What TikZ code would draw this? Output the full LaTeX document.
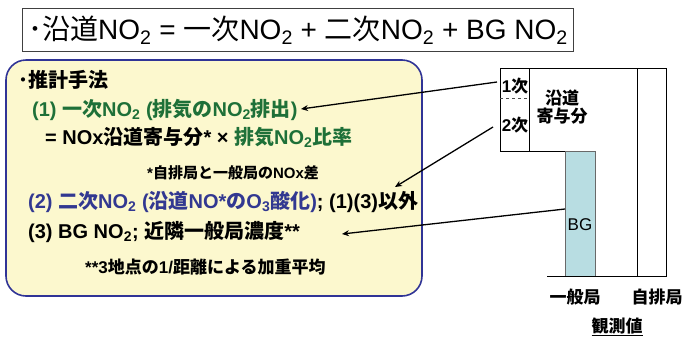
\documentclass[tikz,border=0pt]{standalone}
\usepackage{fontspec}
\setmainfont{Liberation Sans}
\newfontfamily\jp{Noto Sans CJK JP}
\usetikzlibrary{arrows.meta}
\definecolor{yfill}{RGB}{252,248,206}
\definecolor{bblue}{RGB}{48,52,150}
\definecolor{tgreen}{RGB}{30,112,56}
\definecolor{tblue}{RGB}{50,56,145}
\definecolor{bgfill}{RGB}{184,221,226}
\definecolor{bggray}{RGB}{105,105,105}
\newcommand\J[1]{{\jp #1}}
\newcommand\sub[1]{\textsubscript{#1}}
\tikzset{
  txt/.style={inner sep=0pt, anchor=west, font=\bfseries\fontsize{20}{24}\selectfont},
  lbl/.style={inner sep=0pt, font=\bfseries\fontsize{17}{20}\selectfont},
  arr/.style={line width=1.3pt, -{Stealth[length=7pt,width=6pt]}},
  bar/.style={line width=0.9pt}
}
\begin{document}
\begin{tikzpicture}[x=1pt,y=-1pt]
\useasboundingbox (0,0) rectangle (683,338);
% title
\draw[line width=0.9pt, draw=black!75] (22,8) rectangle (573,51);
\node[inner sep=0pt, anchor=west, font=\fontsize{28}{34}\selectfont] (title) at (28,30)
  {\J{･沿道}NO\sub{2} = \J{一次}NO\sub{2} + \J{二次}NO\sub{2} + BG NO\sub{2}};
% yellow box
\draw[fill=yfill, draw=bblue, line width=1.6pt, rounded corners=20pt] (6,60) rectangle (422,296);
\node[txt] (t0) at (18,80) {\J{･推計手法}};
\node[txt, text=tgreen] (t1) at (32,110) {(1) \J{一次}NO\sub{2} (\J{排気の}NO\sub{2}\J{排出})};
\node[txt] (t2) at (45,137) {= NOx\J{沿道寄与分}* × \textcolor{tgreen}{\J{排気}NO\sub{2}\J{比率}}};
\node[txt, font=\bfseries\fontsize{15}{18}\selectfont] (t3) at (147,173) {*\J{自排局と一般局の}NOx\J{差}};
\node[txt] (t4) at (28,202) {\textcolor{tblue}{(2) \J{二次}NO\sub{2} (\J{沿道}NO*\J{の}O\sub{3}\J{酸化})}; (1)(3)\J{以外}};
\node[txt] (t5) at (28,232) {(3) BG NO\sub{2}; \J{近隣一般局濃度}**};
\node[txt, font=\bfseries\fontsize{17}{20}\selectfont] (t6) at (85,267) {**3\J{地点の}1/\J{距離による加重平均}};
% right diagram
\draw[bar] (595,151) -- (500,151) -- (500,68) -- (637,68) -- (637,276);
\draw[bar] (637,68) -- (666,68) -- (666,276);
\draw[bar] (529,68) -- (529,151);
\draw[dashed, line width=0.7pt, draw=black!70] (500,98) -- (529,98);
\draw[fill=bgfill, draw=bggray, line width=0.9pt] (565,151) rectangle (595,276);
\draw[bar] (547,276) -- (667,276);
\node[lbl] (n1) at (515,86) {1\J{次}};
\node[lbl] (n2) at (515,125) {2\J{次}};
\node[lbl, align=center] (ryd) at (562,107) {\J{沿道}\\[-2pt]\J{寄与分}};
\node[inner sep=0pt, font=\fontsize{17}{20}\selectfont] (bg) at (580,225) {BG};
\node[lbl] (ippan) at (575,297) {\J{一般局}};
\node[lbl] (jihai) at (657,297) {\J{自排局}};
\node[lbl] (kan) at (617,327) {\underline{\J{観測値}}};
% arrows
\coordinate (s1) at (497,82);
\coordinate (e1) at (301,109);
\coordinate (s2) at (493,127);
\coordinate (e2) at (395,187);
\coordinate (s3) at (565,209);
\coordinate (e3) at (342,234);
\draw[arr] (s1) -- (e1);
\draw[arr] (s2) -- (e2);
\draw[arr] (s3) -- (e3);
\end{tikzpicture}
\end{document}
